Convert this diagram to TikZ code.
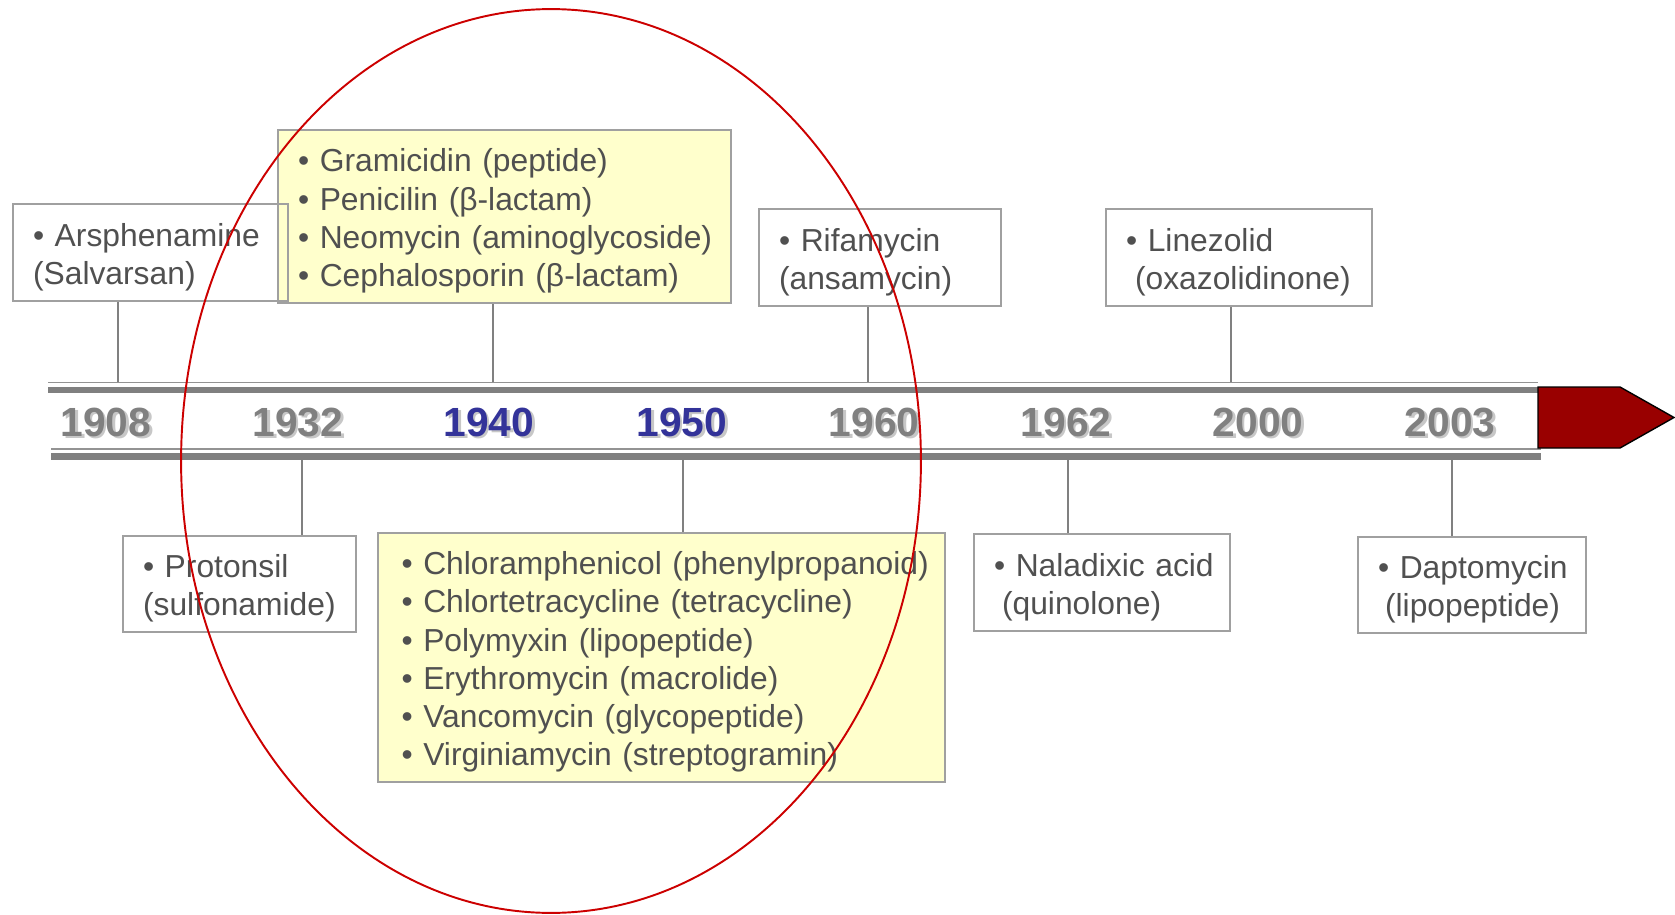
\documentclass[tikz,border=0pt]{standalone}
\usepackage{fontspec}
\setmainfont{Liberation Sans}
\definecolor{txtgray}{HTML}{505050}
\definecolor{boxgray}{HTML}{A0A0A0}
\definecolor{bargray}{HTML}{808080}
\definecolor{yrblue}{HTML}{333399}
\definecolor{notefill}{HTML}{FFFFCC}
\definecolor{arrowred}{HTML}{990000}
\definecolor{ringred}{HTML}{CC0000}
% lines of one box, never broken (a little headroom on top)
\newcommand{\evlines}[1]{\raisebox{0pt}[\dimexpr\height+0.2cm\relax]{\begin{tabular}{@{}l@{}}#1\end{tabular}}}

\begin{document}
\begin{tikzpicture}[
    x=0.02cm, y=-0.02cm,
    evbox/.style={rectangle, draw=boxgray, line width=0.8pt, inner sep=0pt,
                  align=left, text=txtgray, font=\fontsize{18.1}{21.8}\selectfont},
    tick/.style={draw=bargray, line width=0.8pt},
    year/.style={font=\fontsize{23.2}{26}\selectfont\bfseries},
    yrshade/.style={year, text=black!22}
  ]
    \useasboundingbox (0,0) rectangle (1675,915);

    % timeline bar
    \draw[bargray!85, line width=1.1pt] (48,382.5) -- (1538,382.5);
    \draw[bargray, line width=3.7pt] (48,390) -- (1538,390);
    \draw[bargray!85, line width=1.1pt] (51,449) -- (1541,449);
    \draw[bargray, line width=3.9pt] (51,456.5) -- (1541,456.5);
    \draw[fill=arrowred, draw=black, line width=0.8pt]
      (1538,387) -- (1620,387) -- (1674,417.5) -- (1620,448) -- (1538,448) -- cycle;

    % years
    \foreach \yr/\xx/\clr in {1908/106/bargray, 1932/298/bargray, 1940/489/yrblue,
        1950/682/yrblue, 1960/874/bargray, 1962/1066/bargray, 2000/1258/bargray,
        2003/1450/bargray} {
      \node[yrshade] (s\yr) at (\xx+2.5,424.5) {\yr};
      \node[year, text=\clr] (y\yr) at (\xx,422) {\yr};
    }

    % events above the bar
    \node[evbox, fill=notefill, minimum width=9.06cm, minimum height=3.46cm, text width=8.26cm]
      (gram) at (504.5,216.5)
      {\evlines{• Gramicidin (peptide)\\ • Penicilin (β-lactam)\\ • Neomycin (aminoglycoside)\\ • Cephalosporin (β-lactam)}};
    \node[evbox, minimum width=5.5cm, minimum height=1.94cm, text width=4.7cm]
      (arsph) at (150.5,252.5) {\evlines{• Arsphenamine\\(Salvarsan)}};
    \node[evbox, minimum width=4.84cm, minimum height=1.94cm, text width=4.04cm]
      (rifa) at (880,257.5) {\evlines{• Rifamycin\\(ansamycin)}};
    \node[evbox, minimum width=5.32cm, minimum height=1.94cm, text width=4.52cm]
      (linez) at (1239,257.5) {\evlines{• Linezolid\\\hspace*{0.18cm}(oxazolidinone)}};

    % events below the bar
    \node[evbox, minimum width=4.66cm, minimum height=1.92cm, text width=3.86cm]
      (proto) at (239.5,584) {\evlines{• Protonsil\\(sulfonamide)}};
    \node[evbox, fill=notefill, minimum width=11.34cm, minimum height=4.98cm, text width=10.4cm]
      (chlor) at (661.5,657.5)
      {\evlines{• Chloramphenicol (phenylpropanoid)\\ • Chlortetracycline (tetracycline)\\
       • Polymyxin (lipopeptide)\\ • Erythromycin (macrolide)\\
       • Vancomycin (glycopeptide)\\ • Virginiamycin (streptogramin)}};
    \node[evbox, minimum width=5.12cm, minimum height=1.94cm, text width=4.32cm]
      (nala) at (1102,582.5) {\evlines{• Naladixic acid\\\hspace*{0.16cm}(quinolone)}};
    \node[evbox, minimum width=4.56cm, minimum height=1.92cm, text width=3.76cm]
      (dapto) at (1472,585) {\evlines{• Daptomycin\\\hspace*{0.14cm}(lipopeptide)}};

    % ticks
    \coordinate (t1908) at (118,382);
    \coordinate (t1940) at (493,382);
    \coordinate (t1960) at (868,382);
    \coordinate (t2000) at (1231,382);
    \coordinate (t1932) at (302,460);
    \coordinate (t1950) at (683,460);
    \coordinate (t1962) at (1068,460);
    \coordinate (t2003) at (1452,460);
    \draw[tick] (t1908) -- (t1908 |- arsph.south);
    \draw[tick] (t1940) -- (t1940 |- gram.south);
    \draw[tick] (t1960) -- (t1960 |- rifa.south);
    \draw[tick] (t2000) -- (t2000 |- linez.south);
    \draw[tick] (t1932) -- (t1932 |- proto.north);
    \draw[tick] (t1950) -- (t1950 |- chlor.north);
    \draw[tick] (t1962) -- (t1962 |- nala.north);
    \draw[tick] (t2003) -- (t2003 |- dapto.north);

    % highlight ring
    \draw[ringred, line width=1.1pt] (551,461) ellipse [x radius=7.4cm, y radius=9.04cm];
\end{tikzpicture}
\end{document}
